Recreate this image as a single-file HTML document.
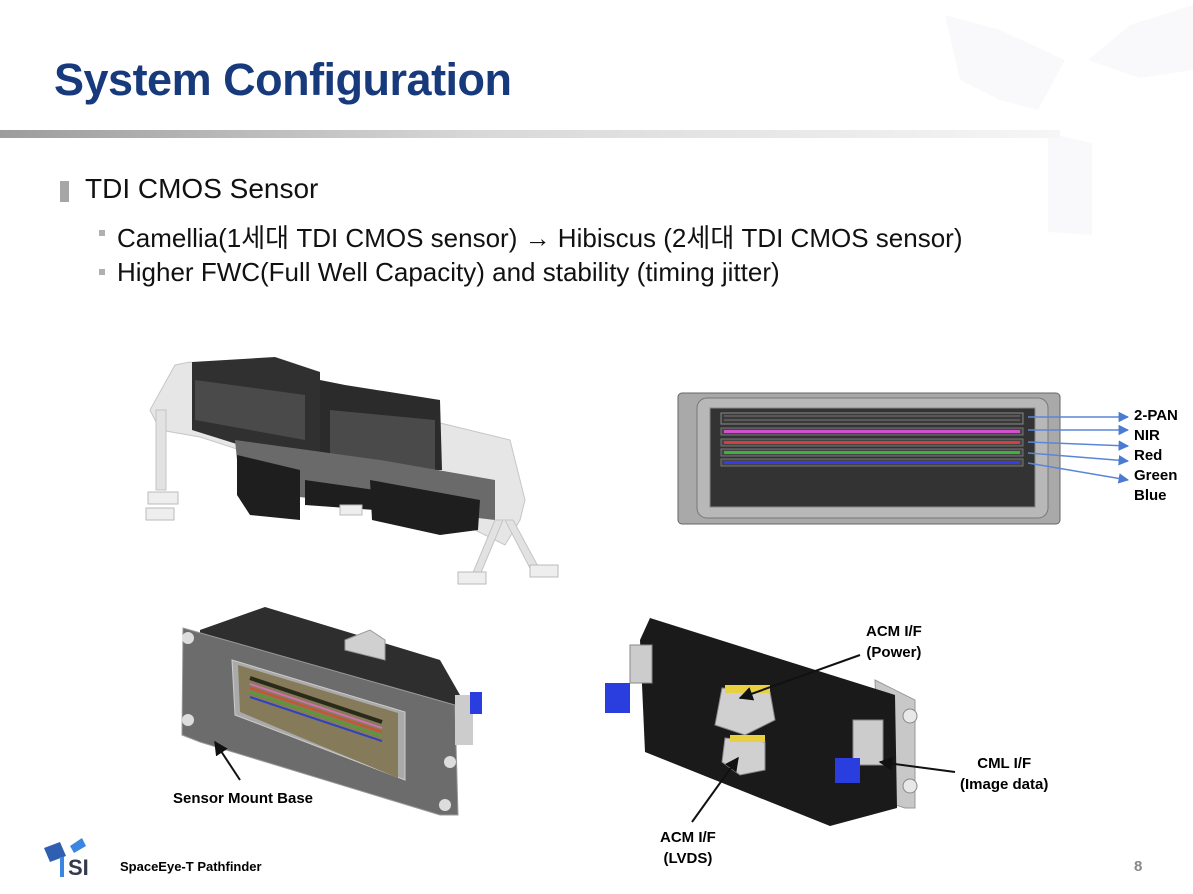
<!DOCTYPE html>
<html><head><meta charset="utf-8"><style>
body{margin:0;width:1193px;height:894px;background:#fff;position:relative;overflow:hidden;font-family:"Liberation Sans","Noto Sans CJK KR",sans-serif}
.a{position:absolute;white-space:nowrap}
</style></head><body>
<svg class="a" style="left:0;top:0" width="1193" height="894" viewBox="0 0 1193 894">
<defs>
<linearGradient id="bar" x1="0" x2="1"><stop offset="0" stop-color="#9c9c9c"/><stop offset="0.45" stop-color="#d8d8d8"/><stop offset="1" stop-color="#f6f6f6"/></linearGradient>
<marker id="bl" viewBox="0 0 10 10" refX="9" refY="5" markerWidth="7" markerHeight="7" orient="auto"><path d="M0,0L10,5L0,10z" fill="#4a7bd0"/></marker>
<marker id="bk" viewBox="0 0 10 10" refX="9" refY="5" markerWidth="7" markerHeight="7" orient="auto"><path d="M0,0L10,5L0,10z" fill="#111"/></marker>
</defs>
<!-- watermark -->
<polygon points="945,15 1000,30 1065,60 1038,110 1000,100 960,80" fill="#f9f9fb"/>
<polygon points="1088,60 1130,25 1193,5 1193,70 1140,78" fill="#f9f9fb"/>
<polygon points="1048,133 1092,143 1092,235 1048,232" fill="#f9f9fb"/>
<rect x="0" y="130" width="1060" height="8" fill="url(#bar)"/>
<!-- bullets -->
<rect x="60" y="181" width="9" height="21" fill="#a6a6a6"/>
<rect x="99" y="230" width="6" height="6" fill="#b0b0b0"/>
<rect x="99" y="269" width="6" height="6" fill="#b0b0b0"/>

<!-- top-left assembly -->
<polygon points="175,365 190,362 510,440 525,500 520,520 505,545 455,520 200,437 160,430 150,410" fill="#e4e4e4" stroke="#c0c0c0" opacity="0.9"/>
<polygon points="192,362 275,357 320,372 320,470 192,430" fill="#303030"/>
<polygon points="320,380 345,385 440,400 442,470 320,470" fill="#2b2b2b"/>
<polygon points="195,380 305,395 305,440 195,420" fill="#4a4a4a"/>
<polygon points="330,410 435,420 435,470 330,460" fill="#4a4a4a"/>
<polygon points="235,440 380,460 495,480 495,520 240,490" fill="#6a6a6a"/>
<polygon points="237,455 300,470 300,520 250,515 237,495" fill="#1e1e1e"/>
<polygon points="305,480 375,490 375,510 305,505" fill="#1e1e1e"/>
<polygon points="370,480 480,500 478,530 440,535 372,520" fill="#1e1e1e"/>
<rect x="156" y="410" width="10" height="80" fill="#e2e2e2" stroke="#c4c4c4"/>
<rect x="148" y="492" width="30" height="12" fill="#eee" stroke="#bbb"/>
<rect x="146" y="508" width="28" height="12" fill="#eee" stroke="#bbb"/>
<polygon points="495,520 503,520 480,575 472,575" fill="#e2e2e2" stroke="#c4c4c4"/>
<polygon points="505,520 513,520 540,570 532,572" fill="#e2e2e2" stroke="#c4c4c4"/>
<rect x="458" y="572" width="28" height="12" fill="#eee" stroke="#bbb"/>
<rect x="530" y="565" width="28" height="12" fill="#eee" stroke="#bbb"/>
<rect x="340" y="505" width="22" height="10" fill="#eee" stroke="#bbb"/>

<!-- top-right sensor -->
<rect x="678" y="393" width="382" height="131" rx="4" fill="#a9a9a9" stroke="#666"/>
<rect x="697" y="398" width="351" height="120" rx="10" fill="#b8b8b8" stroke="#777"/>
<rect x="710" y="408" width="325" height="99" fill="#333" stroke="#888"/>
<rect x="721" y="413" width="302" height="11" fill="#3a3a3a" stroke="#888"/>
<line x1="724" y1="416" x2="1020" y2="416" stroke="#777"/><line x1="724" y1="420" x2="1020" y2="420" stroke="#777"/>
<rect x="721" y="428" width="302" height="7" fill="#444" stroke="#777"/><line x1="724" y1="431.5" x2="1020" y2="431.5" stroke="#d050d0" stroke-width="3"/>
<rect x="721" y="439" width="302" height="7" fill="#444" stroke="#777"/><line x1="724" y1="442.5" x2="1020" y2="442.5" stroke="#d04040" stroke-width="3"/>
<rect x="721" y="449" width="302" height="7" fill="#444" stroke="#777"/><line x1="724" y1="452.5" x2="1020" y2="452.5" stroke="#40b040" stroke-width="3"/>
<rect x="721" y="459" width="302" height="7" fill="#444" stroke="#777"/><line x1="724" y1="462.5" x2="1020" y2="462.5" stroke="#3a3ae0" stroke-width="3"/>
<g stroke="#5a86d8" stroke-width="1.5" fill="none" marker-end="url(#bl)">
<line x1="1028" y1="417" x2="1128" y2="417"/>
<line x1="1028" y1="430" x2="1128" y2="430"/>
<line x1="1028" y1="442" x2="1128" y2="446"/>
<line x1="1028" y1="453" x2="1128" y2="461"/>
<line x1="1028" y1="463" x2="1128" y2="480"/>
</g>

<!-- bottom-left sensor mount -->
<polygon points="200,630 265,607 440,660 460,695 460,715 200,640" fill="#2e2e2e"/>
<polygon points="345,640 370,630 385,640 385,660 345,650" fill="#d0d0d0" stroke="#999"/>
<polygon points="183,628 455,705 458,815 440,815 200,742 182,735" fill="#6c6c6c" stroke="#999"/>
<circle cx="188" cy="638" r="6" fill="#ddd"/><circle cx="188" cy="720" r="6" fill="#ddd"/><circle cx="450" cy="762" r="6" fill="#ddd"/><circle cx="445" cy="805" r="6" fill="#ddd"/>
<polygon points="232,660 405,712 405,780 235,715" fill="#aaa" stroke="#ccc"/>
<polygon points="238,665 398,713 398,778 240,712" fill="#857b5a"/>
<g stroke-width="2">
<line x1="250" y1="678" x2="382" y2="722" stroke="#2a2a1a" stroke-width="4"/>
<line x1="250" y1="684" x2="382" y2="728" stroke="#d070b0"/>
<line x1="250" y1="688" x2="382" y2="732" stroke="#d05030"/>
<line x1="250" y1="692" x2="382" y2="736" stroke="#50a030"/>
<line x1="250" y1="697" x2="382" y2="741" stroke="#3040c0"/>
</g>
<rect x="455" y="695" width="18" height="50" fill="#ccc"/>
<rect x="470" y="692" width="12" height="22" fill="#2a3ee0"/>
<line x1="240" y1="780" x2="215" y2="742" stroke="#111" stroke-width="2" marker-end="url(#bk)"/>

<!-- bottom-right -->
<polygon points="875,680 915,700 915,808 905,808 880,800" fill="#c8c8c8" stroke="#999"/>
<circle cx="910" cy="716" r="7" fill="#e8e8e8" stroke="#888"/><circle cx="910" cy="786" r="7" fill="#e8e8e8" stroke="#888"/>
<polygon points="650,618 895,695 897,808 830,826 645,752 640,640" fill="#1a1a1a"/>
<rect x="630" y="645" width="22" height="38" fill="#ccc" stroke="#888"/>
<rect x="605" y="683" width="25" height="30" fill="#2a3ee0"/>
<polygon points="722,688 770,692 775,720 745,735 715,725" fill="#d0d0d0" stroke="#888"/>
<rect x="725" y="685" width="45" height="8" fill="#e8d040"/>
<polygon points="725,738 765,742 765,770 740,775 722,762" fill="#d0d0d0" stroke="#888"/>
<rect x="730" y="735" width="35" height="7" fill="#e8d040"/>
<rect x="853" y="720" width="30" height="45" fill="#ccc" stroke="#888"/>
<rect x="835" y="758" width="25" height="25" fill="#2a3ee0"/>
<g stroke="#111" stroke-width="2" marker-end="url(#bk)">
<line x1="860" y1="655" x2="740" y2="698"/>
<line x1="692" y1="822" x2="738" y2="758"/>
<line x1="955" y1="772" x2="880" y2="762"/>
</g>

<!-- logo -->
<polygon points="44,848 60,842 66,856 50,862" fill="#2e5fb0"/>
<polygon points="70,846 82,838 86,846 74,853" fill="#3a86e0"/>
<rect x="60" y="857" width="4" height="20" fill="#3a86e0"/>
</svg>

<div class="a" style="left:54px;top:54px;font-size:45px;font-weight:bold;color:#173a7c;letter-spacing:-0.5px">System Configuration</div>
<div class="a" style="left:85px;top:173px;font-size:28px;color:#111">TDI CMOS Sensor</div>
<div class="a" style="left:117px;top:218px;font-size:26px;color:#111">Camellia(1세대 TDI CMOS sensor) <b>→</b> Hibiscus (2세대 TDI CMOS sensor)</div>
<div class="a" style="left:117px;top:257px;font-size:26px;color:#111">Higher FWC(Full Well Capacity) and stability (timing jitter)</div>

<div class="a" style="left:1134px;top:406px;font-size:15px;font-weight:bold;line-height:20px;color:#000">2-PAN<br>NIR<br>Red<br>Green<br>Blue</div>
<div class="a" style="left:173px;top:790px;font-size:15px;font-weight:bold">Sensor Mount Base</div>
<div class="a" style="left:866px;top:621px;font-size:15px;font-weight:bold;line-height:21px;text-align:center">ACM I/F<br>(Power)</div>
<div class="a" style="left:960px;top:753px;font-size:15px;font-weight:bold;line-height:21px;text-align:center">CML I/F<br>(Image data)</div>
<div class="a" style="left:660px;top:827px;font-size:15px;font-weight:bold;line-height:21px;text-align:center">ACM I/F<br>(LVDS)</div>
<div class="a" style="left:68px;top:855px;font-size:22px;font-weight:bold;color:#333a48">SI</div>
<div class="a" style="left:120px;top:859px;font-size:13px;font-weight:bold">SpaceEye-T Pathfinder</div>
<div class="a" style="left:1134px;top:858px;font-size:15px;font-weight:bold;color:#888">8</div>
</body></html>
